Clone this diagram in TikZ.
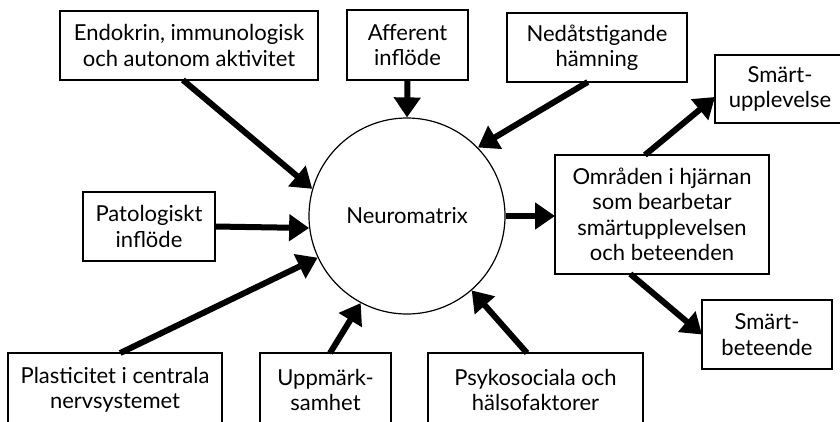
\documentclass[tikz,border=0pt]{standalone}
\usepackage{fontspec}
\setmainfont{Lato}
\usepackage{tikz}
\usetikzlibrary{arrows.meta}
\tikzset{>={Triangle[width=26pt,length=20pt]}}

\begin{document}
\begin{tikzpicture}[
    x = 1pt, y = -1pt,
    font = \fontsize{22}{25.5}\selectfont,
    box/.style = {draw, line width=1.4pt, align=center,
        inner sep = 0pt, outer sep = 0pt},
    hub/.style = {draw, circle, line width=1.2pt,
        minimum size=196pt, inner sep=0pt},
    pil/.style = {->, line width=6pt}
  ]
  \clip (0,0) rectangle (840,421);
  \useasboundingbox (0,0) rectangle (840,421);

  \node[hub] (nm) at (407,216) {Neuromatrix};

  \node[box, minimum width=258pt, minimum height=69pt] (endo) at (189,45.5)
    {Endokrin, immunologisk\\och autonom aktivitet};
  \node[box, minimum width=121pt, minimum height=70pt] (aff) at (407.5,45)
    {Afferent\\inflöde};
  \node[box, minimum width=180pt, minimum height=69pt] (ned) at (597,47.5)
    {Nedåtstigande\\hämning};
  \node[box, minimum width=132pt, minimum height=69pt] (pat) at (149,226.5)
    {Patologiskt\\inflöde};
  \node[box, minimum width=214pt, minimum height=74pt] (pla) at (115,390)
    {Plasticitet i centrala\\nervsystemet};
  \node[box, minimum width=131pt, minimum height=74pt] (upp) at (325.5,390)
    {Uppmärk-\\samhet};
  \node[box, minimum width=215pt, minimum height=74pt] (psy) at (535.5,390)
    {Psykosociala och\\hälsofaktorer};

  \node[box, minimum width=214pt, minimum height=119pt] (omr) at (662,214.5)
    {Områden i hjärnan\\som bearbetar\\smärtupplevelsen\\och beteenden};
  \node[box, minimum width=130pt, minimum height=68pt] (smu) at (780,89)
    {Smärt-\\upplevelse};
  \node[box, minimum width=130pt, minimum height=69pt] (smb) at (767,334.5)
    {Smärt-\\beteende};

  % inflöden till neuromatrix
  \foreach \src/\a/\b in {endo/260/164, aff/270/90, ned/255/44, pat/0/187,
                          pla/82/205, upp/83/242, psy/103/311}
    \draw[pil] (\src.\a) -- (nm.\b);

  % utflöden
  \draw[pil] (nm.east) -- (nm.east -| omr.west);
  \draw[pil] (omr.106) -- (smu.187);
  \draw[pil] (omr.242) -- (smb.west);
\end{tikzpicture}
\end{document}
